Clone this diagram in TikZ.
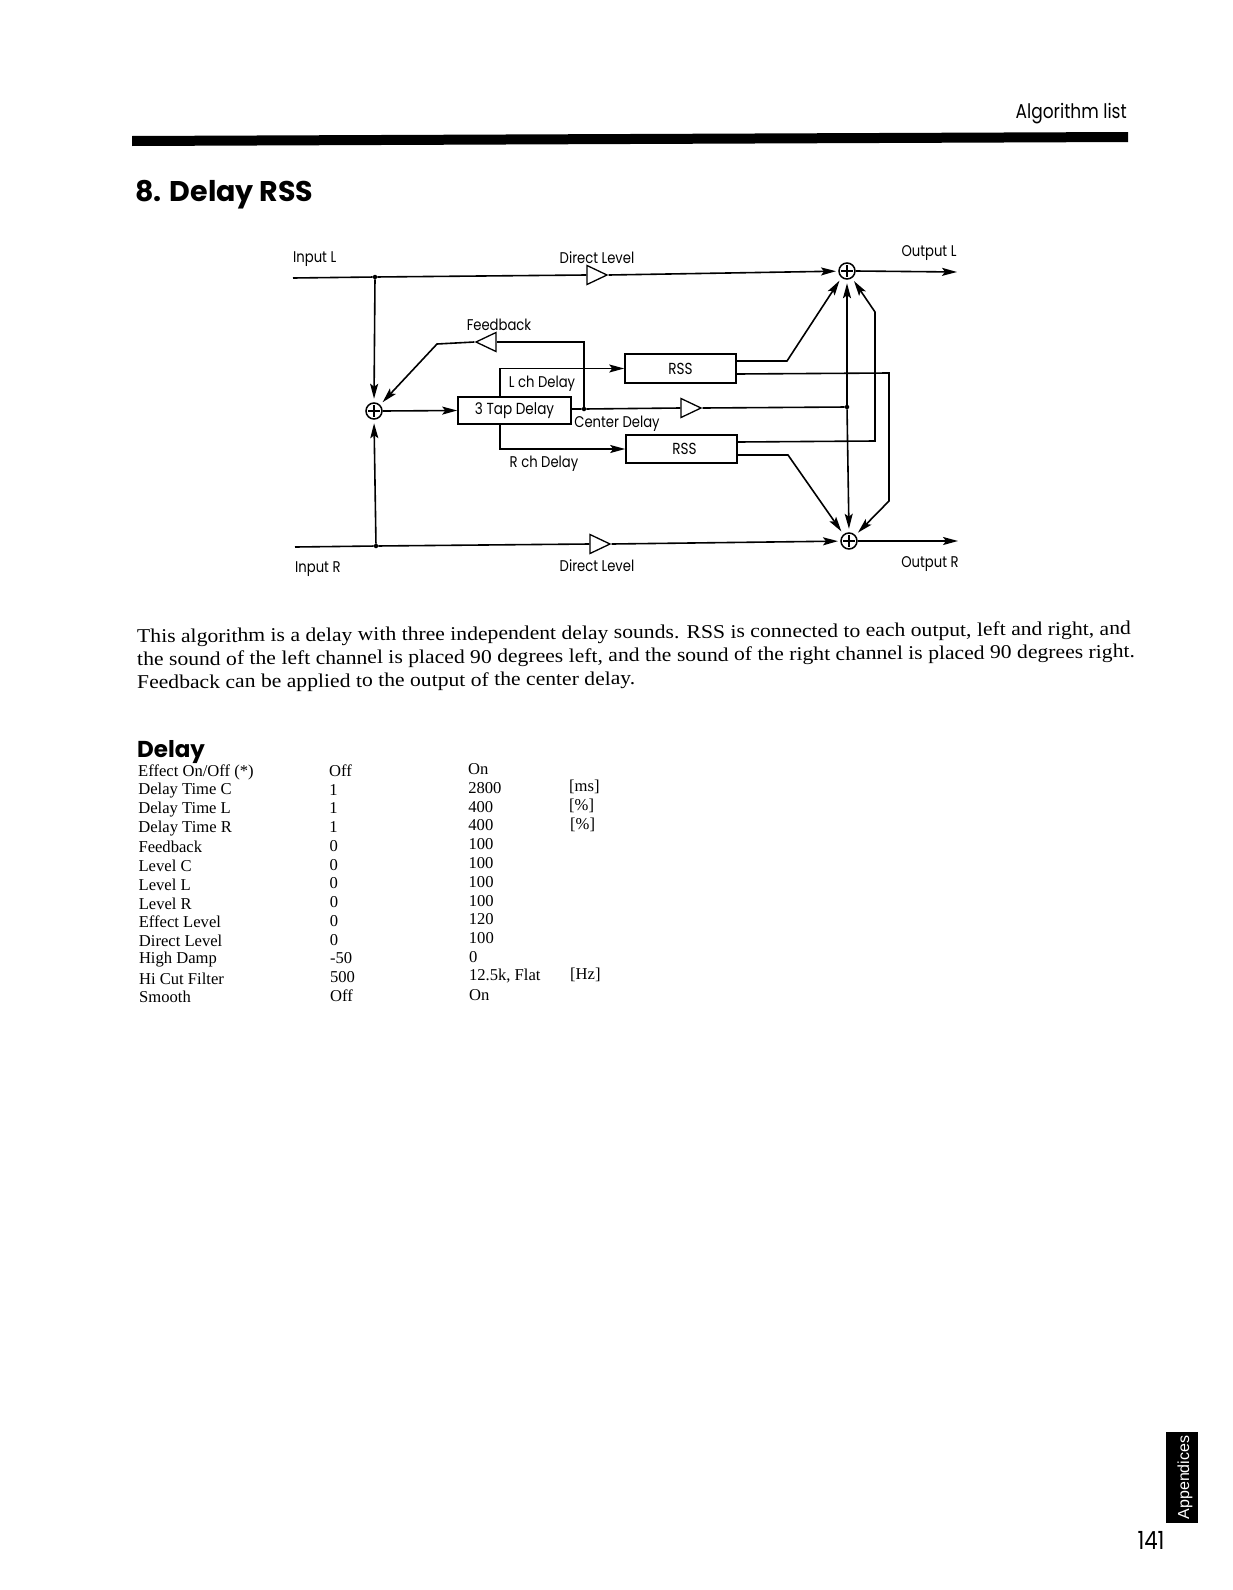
\documentclass[tikz,border=0pt]{standalone}
\usepackage{fontspec}
\setmainfont{Liberation Serif}
\newfontfamily\parafont{Liberation Serif}[FakeStretch=1.11]
\newfontfamily\lab{Poppins}[FakeStretch=0.85]
\newfontfamily\hvy{Poppins}[UprightFont=* Bold]
\newfontfamily\arl{Liberation Sans}
\usetikzlibrary{arrows.meta,shapes.geometric}
\tikzset{
  wire/.style={line width=1.6pt},
  arr/.style={wire,-{Stealth[length=15pt,width=8pt,inset=3pt]}},
  sumarr/.style={arr,shorten >=3.5pt},
  sumnode/.style={circle,draw,line width=1.5pt,minimum size=16pt,inner sep=0pt,fill=white,
    path picture={\draw[line width=1.2pt] ([yshift=-2pt]path picture bounding box.north)--([yshift=2pt]path picture bounding box.south)
      ([xshift=2pt]path picture bounding box.west)--([xshift=-2pt]path picture bounding box.east);}},
  amp/.style={isosceles triangle,isosceles triangle stretches,draw,line width=1.3pt,inner sep=0pt,
    minimum width=19pt,minimum height=20pt},
  box/.style={rectangle,draw,line width=1.6pt,inner sep=0pt,font=\lab\fontsize{16}{16}\selectfont},
  junction/.style={circle,fill=black,inner sep=0pt,minimum size=4.5pt},
  label/.style={inner sep=0pt,font=\lab\fontsize{15.5}{15.5}\selectfont},
  txt/.style={inner sep=0pt,anchor=west,font=\fontsize{16.6}{16.6}\selectfont},
  para/.style={inner sep=0pt,anchor=west,rotate=0.46,font=\parafont\fontsize{19.5}{19.5}\selectfont}
}
\begin{document}
\begin{tikzpicture}[x=1pt,y=-1pt]
\useasboundingbox (0,0) rectangle (1233,1590);
% page furniture
\node[label,anchor=east,font=\lab\fontsize{20}{20}\selectfont] (hdr) at (1127,114) {Algorithm list};
\fill (132,136) -- (1128,132) -- (1128,142) -- (132,146) -- cycle;
\node[inner sep=0pt,anchor=west,font=\hvy\fontsize{28.5}{28.5}\selectfont] (title) at (135,195) {8. Delay RSS};
% diagram nodes
\node[sumnode] (sl) at (374,411) {};
\node[sumnode] (st) at (847,271) {};
\node[sumnode] (sb) at (849,541) {};
\node[box,minimum width=113pt,minimum height=27pt] (d3) at (514.5,410.5) {3 Tap Delay\hspace{6pt}};
\node[box,minimum width=111pt,minimum height=29pt] (rss1) at (680.5,368.5) {RSS};
\node[box,minimum width=111pt,minimum height=28pt] (rss2) at (681.5,449) {\hspace{6pt}RSS};
\node[amp] (tl) at (593,275) {};
\node[amp] (tr) at (596,544) {};
\node[amp] (tc) at (687,408) {};
\node[amp,shape border rotate=180] (tf) at (490,342) {};
\node[junction] (jl) at (375,277) {};
\node[junction] (jr) at (376,546) {};
\node[junction] (jc) at (584,409) {};
\node[junction] (jm) at (847,407) {};
\coordinate (il) at (293,278);
\coordinate (ir) at (295,547);
\coordinate (ol) at (957,272);
\coordinate (or) at (958,541);
\coordinate (fc) at (584,342);
\coordinate (fb) at (437,344);
\coordinate (a1) at (787,361);
\coordinate (a2) at (889,373);
\coordinate (a3) at (889,501);
\coordinate (a4) at (875,441);
\coordinate (a5) at (875,312);
\coordinate (a6) at (788,455);
% connectors
\draw[wire] (il) -- (jl) -- (tl.lower side);
\draw[sumarr,shorten >=11pt] (tl.apex) -- (st.center);
\draw[wire] (ir) -- (jr) -- (tr.lower side);
\draw[sumarr,shorten >=11pt] (tr.apex) -- (sb.center);
\draw[sumarr] (jl) -- (sl.north);
\draw[sumarr] (jr) -- (sl.south);
\draw[arr] (sl.east) -- (d3.west);
\draw[arr] ([xshift=-14.5pt]d3.north) |- (rss1.west);
\draw[arr] ([xshift=-14.5pt]d3.south) |- (rss2.west);
\draw[wire] ([yshift=1.5pt]d3.east) -- (jc) -- (tc.lower side);
\draw[wire] (tc.apex) -- (jm);
\draw[wire] (jc) -- (fc) -- (tf.lower side);
\draw[sumarr] (tf.apex) -- (fb) -- (sl.45);
\draw[sumarr] (jm) -- (st.south);
\draw[sumarr] (jm) -- (sb.north);
\draw[sumarr] ([yshift=7.5pt]rss1.east) -- (a1) -- (st.230);
\draw[sumarr] ([yshift=-5.5pt]rss1.east) -- (a2) -- (a3) -- (sb.42);
\draw[sumarr] ([yshift=7pt]rss2.east) -- (a4) -- (a5) -- (st.305);
\draw[sumarr] ([yshift=-6pt]rss2.east) -- (a6) -- (sb.130);
\draw[arr] (st.east) -- (ol);
\draw[arr] (sb.east) -- (or);
% diagram labels
\node[label,anchor=west] (lil) at (293,259.5) {Input L};
\node[label] (ldt) at (597,258) {Direct Level};
\node[label] (lfb) at (499,325) {Feedback};
\node[label] (llc) at (542,383.5) {L ch Delay};
\node[label] (lcd) at (617,424) {Center Delay};
\node[label] (lrc) at (544,464) {R ch Delay};
\node[label,anchor=west] (lir) at (295,569.5) {Input R};
\node[label] (ldb) at (597,566) {Direct Level};
\node[label] (lol) at (929,253.5) {Output L};
\node[label] (lor) at (930,564) {Output R};
% paragraph
\node[para] (p1) at (137,638) {This algorithm is a delay with three independent delay sounds. RSS is connected to each output, left and right, and};
\node[para] (p2) at (137,661) {the sound of the left channel is placed 90 degrees left, and the sound of the right channel is placed 90 degrees right.};
\node[para] (p3) at (137,684) {Feedback can be applied to the output of the center delay.};
% table
\node[inner sep=0pt,anchor=west,font=\hvy\fontsize{23}{23}\selectfont] (dh) at (137,752) {Delay};
\foreach \i/\t in {0/{Effect On/Off (*)},1/Delay Time C,2/Delay Time L,3/Delay Time R,4/Feedback,5/Level C,6/Level L,7/Level R,8/Effect Level,9/Direct Level,10/High Damp,11/Hi Cut Filter,12/Smooth}
  \node[txt] (ca\i) at ({138+0.08*\i},{772+18.77*\i}) {\t};
\foreach \i/\t in {0/Off,1/1,2/1,3/1,4/0,5/0,6/0,7/0,8/0,9/0,10/-50,11/500,12/Off}
  \node[txt] (cb\i) at ({329+0.08*\i},{771+18.75*\i}) {\t};
\foreach \i/\t in {0/On,1/2800,2/400,3/400,4/100,5/100,6/100,7/100,8/120,9/100,10/0,11/{12.5k, Flat},12/On}
  \node[txt] (cc\i) at ({468+0.08*\i},{769+18.8*\i}) {\t};
\node[txt] (cd1) at (569,787) {[ms]};
\node[txt] (cd2) at (569,806) {[\%]};
\node[txt] (cd3) at (570,825) {[\%]};
\node[txt] (cd4) at (570,975) {[Hz]};
% tab
\node[rectangle,fill=black,minimum width=32pt,minimum height=91pt,inner sep=0pt] (tab) at (1182,1477.5) {};
\node[inner sep=0pt,rotate=90,text=white,font=\arl\fontsize{16}{16}\selectfont] (tabt) at ([xshift=3pt]tab.center) {Appendices};
\node[inner sep=0pt,font=\lab\fontsize{25}{25}\selectfont] (pg) at (1151,1540) {141};
\end{tikzpicture}
\end{document}
